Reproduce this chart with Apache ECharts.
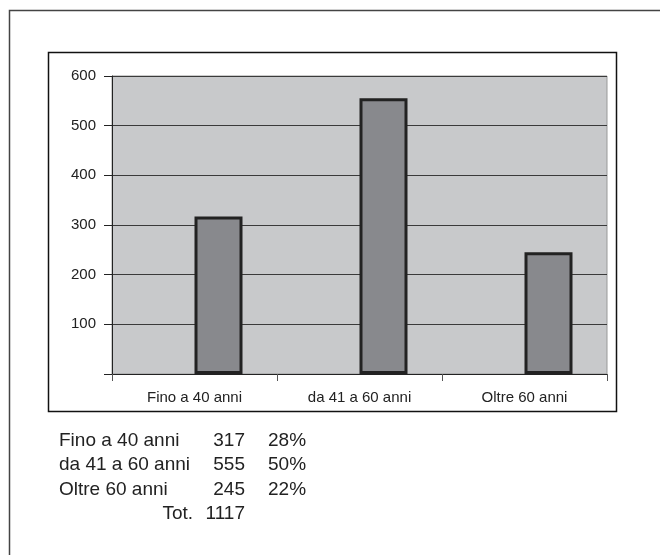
<!DOCTYPE html>
<html><head><meta charset="utf-8">
<script src="https://cdn.jsdelivr.net/npm/echarts@6/dist/echarts.min.js"></script>
<style>html,body{margin:0;padding:0;background:#fff}#c{width:660px;height:555px}</style>
</head><body><div id="c"></div>
<script>
var categories = ['Fino a 40 anni', 'da 41 a 60 anni', 'Oltre 60 anni'];
var values = [317, 555, 245];
var percents = ['28%', '50%', '22%'];
var totalLabel = 'Tot.';
var totalValue = 1117;

var FONT = '"Liberation Sans", Arial, sans-serif';
var chart = echarts.init(document.getElementById('c'), null, {renderer: 'canvas'});

var TF = '19px ' + FONT;
var graphics = [
  {type: 'rect', shape: {x: 9.5, y: 10.5, width: 700, height: 600}, style: {fill: 'none', stroke: '#444', lineWidth: 1.5}, z: 0},
  {type: 'rect', shape: {x: 48.5, y: 52.5, width: 568, height: 359}, style: {fill: 'none', stroke: '#111', lineWidth: 1.5}, z: 0}
];
var rowY = [441, 465, 489.5];
for (var i = 0; i < categories.length; i++) {
  graphics.push({type: 'text', x: 59, y: rowY[i], style: {text: categories[i], font: TF, fill: '#222', verticalAlign: 'middle'}});
  graphics.push({type: 'text', x: 245, y: rowY[i], style: {text: String(values[i]), font: TF, fill: '#222', align: 'right', verticalAlign: 'middle'}});
  graphics.push({type: 'text', x: 268, y: rowY[i], style: {text: percents[i], font: TF, fill: '#222', verticalAlign: 'middle'}});
}
graphics.push({type: 'text', x: 193, y: 514, style: {text: totalLabel, font: TF, fill: '#222', align: 'right', verticalAlign: 'middle'}});
graphics.push({type: 'text', x: 245, y: 514, style: {text: String(totalValue), font: TF, fill: '#222', align: 'right', verticalAlign: 'middle'}});

chart.setOption({
  animation: false,
  backgroundColor: '#fff',
  grid: {left: 112, top: 76, width: 495, height: 298, show: true, backgroundColor: '#c8c9cb', borderColor: '#999', borderWidth: 1},
  xAxis: {
    type: 'category', data: categories,
    axisLine: {lineStyle: {color: '#222', width: 1}},
    axisTick: {show: true, length: 7, alignWithLabel: false, lineStyle: {color: '#555'}},
    axisLabel: {color: '#222', fontSize: 15, fontFamily: FONT, margin: 16, interval: 0},
    splitLine: {show: false}
  },
  yAxis: {
    type: 'value', min: 0, max: 600, interval: 100,
    axisLine: {show: true, lineStyle: {color: '#222', width: 1}},
    axisTick: {show: true, length: 8, lineStyle: {color: '#222'}},
    axisLabel: {color: '#222', fontSize: 15, fontFamily: FONT, margin: 16,
      formatter: function (v) { return v === 0 ? '' : String(v); }},
    splitLine: {show: true, lineStyle: {color: '#3a3a3a', width: 1}}
  },
  series: [
    {type: 'bar', data: categories.map(function () { return null; }), barWidth: 48, barGap: 0, silent: true},
    {type: 'bar', data: values, barWidth: 48, barGap: 0,
     itemStyle: {color: '#88898d', borderColor: '#222', borderWidth: 3}}
  ],
  graphic: graphics
});
</script></body></html>
